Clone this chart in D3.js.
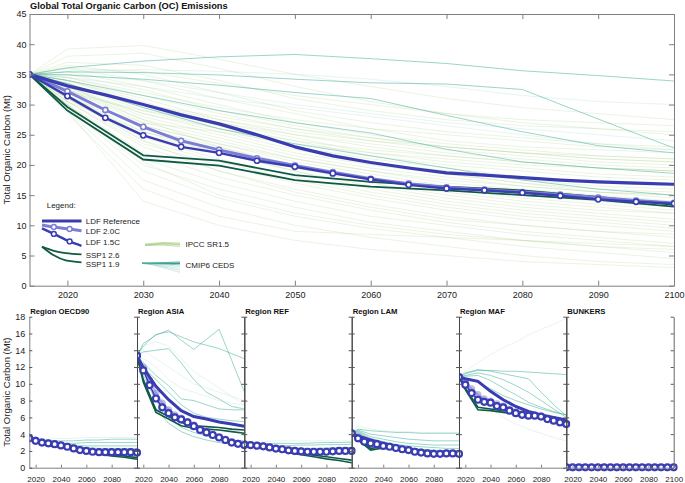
<!DOCTYPE html>
<html><head><meta charset="utf-8">
<script src="https://cdn.jsdelivr.net/npm/d3@7"></script>
<style>
body{margin:0;background:#fff}
svg{display:block;font-family:"Liberation Sans",Arial,Helvetica,sans-serif}
</style></head><body>
<svg id="c" width="685" height="483"></svg>
<script>
// ---------------- DATA ----------------
const YEARS = [2015,2020,2030,2040,2050,2060,2070,2080,2090,2100];
const YEARS5 = [2015,2020,2025,2030,2035,2040,2045,2050,2055,2060,2065,2070,2075,2080,2085,2090,2095,2100];
const MAIN_X_TICKS = [2020,2030,2040,2050,2060,2070,2080,2090,2100];
const MAIN_Y_TICKS = [0,5,10,15,20,25,30,35,40,45];
const REG_Y_TICKS = [0,2,4,6,8,10,12,14,16,18];
const REG_X_TICKS = [2020,2040,2060,2080];
const REGIONS = ["Region OECD90","Region ASIA","Region REF","Region LAM","Region MAF","BUNKERS"];

// Global (5-year steps)
const LDF_REF = [35.0,33.1,31.6,30.0,28.3,26.8,25.0,23.0,21.5,20.4,19.5,18.7,18.3,17.9,17.5,17.2,17.0,16.8];
const LDF_20C = [35.0,32.2,29.1,26.3,24.0,22.5,21.1,19.9,18.8,17.7,16.9,16.3,15.9,15.5,15.1,14.6,14.1,13.7];
const LDF_15C = [35.0,31.4,27.8,24.9,23.0,22.0,20.7,19.7,18.6,17.6,16.7,16.1,15.8,15.4,14.9,14.3,13.9,13.6];
// Global (YEARS steps)
const SSP1_26 = [35.0,29.6,21.6,20.7,18.3,17.2,16.4,15.8,14.7,13.4];
const SSP1_19 = [35.0,29.0,20.9,19.9,17.5,16.4,15.8,15.0,14.2,13.1];
const CMIP_STRONG = [
  [35.0,36.1,37.2,37.9,38.3,37.6,36.8,35.6,34.8,33.9],
  [35.0,35.4,35.3,34.9,34.2,33.6,33.4,32.5,27.6,22.8],
  [35.0,34.9,34.2,33.2,32.0,31.0,28.2,25.5,23.2,22.0],
  [35.0,34.0,31.5,29.0,27.0,25.3,22.6,20.5,19.5,18.6],
  [35.0,33.5,29.5,26.0,23.5,21.5,19.5,17.5,16.0,15.0]
];
const CMIP_FAINT = [
  [35.0,35.5,35.8,35.5,35.0,34.2,33.0,31.5,30.5,30.0],
  [35.0,35.0,34.0,32.0,30.0,28.5,27.0,26.0,25.0,24.0],
  [35.0,34.5,33.0,31.0,29.5,28.0,26.5,25.0,23.5,22.5]
];
const IPCC_SR15 = [
  [35,39.2,39.8,37.5,35.0,33.0,31.0,29.5,28.5,27.5],
  [35,38.0,38.5,36.0,33.0,30.5,28.5,27.0,26.0,25.5],
  [35,37.0,36.5,34.0,31.0,29.0,27.5,26.5,26.0,25.0],
  [35,36.5,35.0,32.0,29.0,27.0,25.5,24.5,23.5,23.0],
  [35,36.0,34.0,31.0,28.5,26.0,24.0,23.0,22.5,22.0],
  [35,35.5,33.0,30.0,27.0,25.0,23.5,22.5,21.5,21.0],
  [35,35.0,32.5,29.0,26.5,24.5,23.0,22.0,21.0,20.5],
  [35,34.5,31.5,28.5,26.0,24.0,22.5,21.5,20.5,20.0],
  [35,34.0,31.0,27.5,25.0,23.0,21.5,20.5,19.5,19.0],
  [35,34.0,30.0,27.0,24.5,22.0,20.5,19.5,18.5,18.0],
  [35,33.5,29.5,26.5,24.0,21.5,20.0,19.0,18.0,17.5],
  [35,33.5,29.0,26.0,23.0,21.0,19.5,18.0,17.0,16.5],
  [35,33.0,28.5,25.5,22.5,20.5,19.0,17.5,16.5,16.0],
  [35,33.0,28.0,25.0,22.0,20.0,18.5,17.0,16.0,15.5],
  [35,32.5,27.5,24.5,21.5,19.5,18.0,16.5,15.5,15.0],
  [35,32.5,27.0,24.0,21.0,19.0,17.0,16.0,15.0,14.0],
  [35,32.0,26.5,23.5,20.5,18.5,16.5,15.0,14.0,13.0],
  [35,32.0,26.0,23.0,20.0,18.0,16.0,14.5,13.5,12.5],
  [35,31.5,25.5,22.5,19.5,17.0,15.0,13.5,12.5,12.0],
  [35,31.5,25.0,22.0,19.0,16.5,14.5,13.0,12.0,11.0],
  [35,31.0,24.5,21.0,18.0,15.5,13.5,12.0,11.0,10.0],
  [35,31.0,24.0,20.5,17.5,15.0,13.0,11.5,10.5,9.5],
  [35,30.5,23.5,20.0,17.0,14.5,12.5,11.0,10.0,9.0],
  [35,30.5,23.0,19.0,16.0,13.5,11.5,10.0,9.0,8.0],
  [35,30.0,22.0,18.0,15.0,12.5,10.5,9.0,8.0,7.0],
  [35,30.0,21.0,17.0,14.0,11.5,10.0,8.5,7.5,6.5],
  [35,29.5,20.0,16.0,13.0,10.5,9.0,7.5,6.5,5.5],
  [35,29.5,19.0,14.5,11.5,9.5,8.0,6.5,5.5,4.5],
  [35,29.0,17.5,13.0,10.0,8.0,6.5,5.0,4.0,3.5],
  [35,29.0,14.0,10.0,7.5,6.0,5.0,4.0,3.5,3.0],
  [35,28.5,16.0,11.5,9.0,8.5,8.0,7.5,7.0,6.5],
  [35,34.5,32.0,29.5,27.5,26.0,25.0,24.0,23.0,22.5],
  [35,33.0,30.0,28.0,26.0,24.5,23.0,22.0,21.5,21.0],
  [35,32.0,29.0,27.0,25.0,23.5,22.0,21.0,20.0,19.5],
  [35,31.0,27.0,25.5,23.5,22.0,21.0,20.0,19.5,19.0],
  [35,36.0,35.5,33.5,31.5,30.0,28.5,27.5,27.0,26.5],
  [35,34.0,30.5,26.5,23.0,20.5,18.5,17.0,15.5,14.5],
  [35,33.0,27.5,23.0,19.5,17.5,15.5,14.0,13.0,12.0],
  [35,31.5,24.0,19.0,15.5,13.0,11.0,10.0,9.0,8.5],
  [35,30.0,20.5,15.0,12.0,10.0,8.5,7.5,6.5,6.0],
  [35,33.5,30.0,27.5,25.5,24.0,23.0,22.0,21.0,20.5],
  [35,32.5,28.5,26.0,24.0,22.5,21.5,20.5,19.5,19.0],
  [35,31.5,26.5,23.5,21.0,19.0,17.5,16.5,15.5,15.0],
  [35,30.5,25.5,22.0,19.0,16.0,14.0,12.5,11.5,10.5]
];

// Regional LDF (5-year steps)
const REG_LDF_15C = [
  [3.5,3.2,3.0,2.9,2.8,2.65,2.5,2.3,2.1,2.0,1.9,1.85,1.85,1.85,1.85,1.85,1.85,1.8],
  [13.35,11.6,9.85,8.25,7.2,6.5,6.0,5.75,5.4,4.95,4.5,4.2,3.9,3.6,3.3,3.0,2.85,2.7],
  [2.78,2.7,2.62,2.55,2.42,2.28,2.2,2.07,2.0,1.95,1.9,1.9,1.9,1.9,1.95,2.0,2.0,2.0],
  [4.1,3.5,3.1,2.9,2.8,2.6,2.5,2.35,2.2,2.1,1.9,1.8,1.7,1.65,1.65,1.7,1.7,1.65],
  [10.8,9.9,8.9,8.1,7.85,7.75,7.35,7.2,6.8,6.5,6.3,6.2,6.2,6.1,5.8,5.6,5.4,5.2],
  [0.05,0.05,0.05,0.05,0.05,0.05,0.05,0.05,0.05,0.05,0.05,0.05,0.05,0.05,0.05,0.05,0.05,0.05]
];
const REG_LDF_20C = [
  [3.5,3.3,3.1,2.95,2.85,2.7,2.55,2.35,2.15,2.05,1.95,1.9,1.9,1.9,1.9,1.9,1.9,1.85],
  [13.35,12.0,10.4,8.9,7.7,6.9,6.3,5.9,5.5,5.1,4.6,4.3,4.0,3.7,3.4,3.1,2.9,2.75],
  [2.78,2.72,2.65,2.58,2.45,2.3,2.22,2.1,2.02,1.97,1.92,1.92,1.92,1.92,1.97,2.02,2.02,2.02],
  [4.1,3.7,3.3,3.05,2.9,2.7,2.55,2.4,2.25,2.15,1.95,1.85,1.75,1.7,1.7,1.72,1.72,1.7],
  [10.8,10.2,9.4,8.7,8.2,7.95,7.6,7.35,7.0,6.7,6.45,6.3,6.25,6.15,5.9,5.7,5.5,5.3],
  [0.05,0.05,0.05,0.05,0.05,0.05,0.05,0.05,0.05,0.05,0.05,0.05,0.05,0.05,0.05,0.05,0.05,0.05]
];
// Regional (YEARS steps)
const REG_LDF_REF = [
  [3.5,3.3,2.95,2.75,2.45,2.15,1.95,1.9,1.9,1.9],
  [13.35,11.9,9.7,8.1,6.8,6.1,5.8,5.45,5.2,4.95],
  [2.78,2.7,2.55,2.3,2.1,1.95,1.9,1.95,2.0,2.05],
  [4.1,3.8,3.3,2.9,2.55,2.25,2.0,1.85,1.8,1.75],
  [10.8,10.6,10.3,9.1,8.1,7.3,6.7,6.3,6.0,5.7],
  [0.05,0.05,0.05,0.05,0.05,0.05,0.05,0.05,0.05,0.05]
];
const REG_SSP1_26 = [
  [3.5,3.1,2.7,2.5,2.3,2.0,1.75,1.55,1.4,1.2],
  [13.35,10.5,6.9,6.1,5.4,5.0,4.9,4.8,4.6,4.5],
  [2.78,2.65,2.45,2.2,1.95,1.7,1.5,1.3,1.1,0.9],
  [4.1,3.3,2.3,2.5,2.3,2.1,2.0,1.9,1.8,1.75],
  [10.8,9.5,7.2,7.0,6.8,6.6,6.4,6.2,5.9,5.6],
  [0.05,0.05,0.05,0.05,0.05,0.05,0.05,0.05,0.05,0.05]
];
const REG_SSP1_19 = [
  [3.5,3.1,2.6,2.45,2.2,1.9,1.6,1.4,1.25,1.0],
  [13.35,10.2,6.6,5.8,5.0,4.7,4.6,4.5,4.3,4.1],
  [2.78,2.65,2.4,2.1,1.8,1.55,1.3,1.05,0.85,0.6],
  [4.1,3.3,2.1,2.35,2.15,2.0,1.9,1.8,1.75,1.7],
  [10.8,9.3,6.9,6.8,6.6,6.4,6.2,6.0,5.8,5.5],
  [0.05,0.05,0.05,0.05,0.05,0.05,0.05,0.05,0.05,0.05]
];
const REG_CMIP = [
  [[3.5,3.3,3.2,3.2,3.2,3.3,3.3,3.4,3.4,3.4],
   [3.5,3.2,3.0,2.9,2.9,3.0,3.0,3.0,3.0,3.0],
   [3.5,3.2,2.9,2.8,2.7,2.6,2.6,2.6,2.6,2.6],
   [3.5,3.1,2.8,2.6,2.5,2.4,2.3,2.3,2.3,2.3],
   [3.5,3.1,2.7,2.5,2.3,2.1,2.0,2.0,2.0,2.0],
   [3.5,3.1,2.7,2.5,2.2,1.9,1.7,1.6,1.5,1.4]],
  [[13.35,14.8,15.8,16.4,15.2,14.1,15.3,16.5,12.8,9.06],
   [13.35,14.5,15.9,16.2,15.6,15.0,14.6,14.2,13.6,13.0],
   [13.35,13.8,14.0,14.2,12.5,10.5,9.0,8.2,7.3,7.0],
   [13.35,12.5,11.0,9.8,8.2,8.0,7.5,7.0,6.9,6.9],
   [13.35,12.0,10.5,9.0,7.5,6.5,6.0,5.8,5.6,5.5],
   [13.35,11.0,8.0,6.0,4.8,4.2,3.8,3.5,3.3,3.2],
   [13.35,10.5,7.0,5.3,4.3,3.7,3.3,3.0,2.8,2.6]],
  [[2.78,2.8,2.85,2.9,2.9,2.9,2.95,3.0,3.0,3.05],
   [2.78,2.75,2.7,2.65,2.65,2.7,2.7,2.75,2.75,2.8],
   [2.78,2.7,2.6,2.45,2.35,2.3,2.3,2.35,2.4,2.4]],
  [[4.1,4.6,4.4,4.3,4.2,4.2,4.1,4.1,4.1,4.1],
   [4.1,4.5,4.0,3.8,3.6,3.4,3.3,3.2,3.2,3.2],
   [4.1,4.4,3.7,3.4,3.1,2.9,2.8,2.7,2.7,2.7],
   [4.1,4.3,3.5,3.1,2.8,2.6,2.5,2.4,2.3,2.3],
   [4.1,4.2,3.3,2.9,2.6,2.4,2.2,2.1,2.0,2.0]],
  [[10.8,11.2,11.6,11.6,11.5,11.5,11.4,11.3,11.2,11.1],
   [10.8,11.3,11.7,11.5,11.2,10.9,10.6,9.0,7.5,6.2],
   [10.8,11.0,11.3,11.0,10.5,9.8,9.0,8.0,7.0,6.0],
   [10.8,10.9,11.0,10.4,9.5,8.7,7.8,7.2,6.7,6.3],
   [10.8,10.6,10.2,9.4,8.6,8.0,7.5,7.0,6.6,6.3]],
  []
];
const REG_CMIP_FAINT = [
  [[3.5,3.4,3.4,3.5,3.5,3.6,3.6,3.6,3.6,3.6]],
  [[13.35,14.0,13.0,12.0,11.0,10.0,9.5,9.0,8.5,8.0],
   [13.35,13.0,12.0,10.5,9.5,9.0,8.5,8.0,7.7,7.5],
   [13.35,14.5,15.0,14.5,13.0,11.5,10.5,9.5,8.5,7.5]],
  [[2.78,2.9,3.1,3.2,3.2,3.2,3.2,3.2,3.2,3.2]],
  [[4.1,5.0,4.6,4.4,4.3,4.3,4.2,4.2,4.2,4.2]],
  [[10.8,11.5,12.5,13.5,14.3,15.0,15.8,16.5,17.1,17.8],
   [10.8,10.0,8.5,7.0,6.0,5.2,4.6,4.1,3.6,3.2]],
  []
];

// ---------------- STYLE ----------------
const C_REF = "#3a3cb2", C_20 = "#7c7ed6", C_15 = "#3a3cb2";
const C_SSP = "#0f5a45", C_CMIP = "#4cb3a0", C_IPCC = "#9cc874";
const AX = "#7f7f7f";

const svg = d3.select("#c");
const line = d3.line().x(d => d[0]).y(d => d[1]);

// ---------------- MAIN CHART ----------------
const L = 29.5, R = 674, T = 14, B = 285.7;
const x = d3.scaleLinear().domain([2015,2100]).range([L,R]);
const y = d3.scaleLinear().domain([0,45]).range([B,T]);

svg.append("defs").append("clipPath").attr("id","mclip")
  .append("rect").attr("x",L).attr("y",T).attr("width",R-L).attr("height",B-T);
const g = svg.append("g").attr("clip-path","url(#mclip)");
const pts = (yrs, vals, sx, sy) => yrs.map((yr,i)=>[sx(yr), sy(vals[i])]);

IPCC_SR15.forEach(s => g.append("path").attr("d", line(pts(YEARS,s,x,y)))
  .attr("fill","none").attr("stroke",C_IPCC).attr("stroke-width",0.7).attr("stroke-opacity",0.3));
CMIP_FAINT.forEach(s => g.append("path").attr("d", line(pts(YEARS,s,x,y)))
  .attr("fill","none").attr("stroke",C_CMIP).attr("stroke-width",0.7).attr("stroke-opacity",0.2));
CMIP_STRONG.forEach(s => g.append("path").attr("d", line(pts(YEARS,s,x,y)))
  .attr("fill","none").attr("stroke",C_CMIP).attr("stroke-width",0.8).attr("stroke-opacity",0.7));
[SSP1_26, SSP1_19].forEach(s => g.append("path").attr("d", line(pts(YEARS,s,x,y)))
  .attr("fill","none").attr("stroke",C_SSP).attr("stroke-width",1.8));

function markerSeries(grp, yrs, vals, sx, sy, col, lw, r, mw, fill) {
  grp.append("path").attr("d", line(pts(yrs,vals,sx,sy)))
    .attr("fill","none").attr("stroke",col).attr("stroke-width",lw).attr("stroke-linejoin","round");
  grp.selectAll(null).data(pts(yrs,vals,sx,sy)).enter().append("circle")
    .attr("cx",d=>d[0]).attr("cy",d=>d[1]).attr("r",r)
    .attr("fill",fill).attr("stroke",col).attr("stroke-width",mw);
}
markerSeries(g, YEARS5, LDF_20C, x, y, C_20, 3, 2.6, 1.6, "#fff");
g.append("path").attr("d", line(pts(YEARS5,LDF_REF,x,y)))
  .attr("fill","none").attr("stroke",C_REF).attr("stroke-width",3.2).attr("stroke-linejoin","round");
markerSeries(g, YEARS5, LDF_15C, x, y, C_15, 2.4, 2.6, 1.6, "#fff");

function styleAxis(a){
  a.selectAll("path.domain").attr("stroke",AX).attr("stroke-width",1);
  a.selectAll(".tick line").attr("stroke",AX);
  a.selectAll("text").attr("fill","#222");
}
const fmtD = d3.format("d");
const ax1 = svg.append("g").attr("transform",`translate(${L},0)`)
  .call(d3.axisLeft(y).tickValues(MAIN_Y_TICKS).tickSize(-5).tickSizeOuter(0).tickPadding(3).tickFormat(fmtD))
  .style("font-size","9px").style("font-family","Liberation Sans, Arial, sans-serif");
styleAxis(ax1);
const ax2 = svg.append("g").attr("transform",`translate(0,${B})`)
  .call(d3.axisBottom(x).tickValues(MAIN_X_TICKS).tickSize(-5).tickSizeOuter(0).tickPadding(6).tickFormat(fmtD))
  .style("font-size","9px").style("font-family","Liberation Sans, Arial, sans-serif");
styleAxis(ax2);
const ax3 = svg.append("g").attr("transform",`translate(0,${T})`)
  .call(d3.axisTop(x).tickValues(MAIN_X_TICKS).tickSize(-5).tickSizeOuter(0).tickFormat(""));
styleAxis(ax3);
const ax4 = svg.append("g").attr("transform",`translate(${R},0)`)
  .call(d3.axisRight(y).tickValues(MAIN_Y_TICKS).tickSize(-5).tickSizeOuter(0).tickFormat(""));
styleAxis(ax4);

svg.append("text").attr("x",30).attr("y",9).text("Global Total Organic Carbon (OC) Emissions")
  .attr("font-size","9.3px").attr("font-weight","bold").attr("fill","#111");
svg.append("text").attr("transform",`translate(10,${(T+B)/2}) rotate(-90)`).attr("text-anchor","middle")
  .text("Total Organic Carbon (Mt)").attr("font-size","9.5px").attr("fill","#222");

// ---------------- LEGEND ----------------
const lg = svg.append("g").style("font-size","8px").attr("fill","#222");
lg.append("text").attr("x",46.7).attr("y",208).text("Legend:");
const legItems = [
  {name:"LDF Reference", ty:224, shape:[[0,0],[1,0]], y0:221, dy:0, col:C_REF, w:3.2, m:[]},
  {name:"LDF 2.0C", ty:233.5, shape:[[0,0],[0.3,0.35],[0.7,0.7],[1,1]], y0:225, dy:5.7, col:C_20, w:3, m:[0.3,0.7]},
  {name:"LDF 1.5C", ty:244.5, shape:[[0,0],[0.3,0.32],[0.7,0.75],[1,1]], y0:228.3, dy:17.5, col:C_15, w:2.4, m:[0.3,0.7]},
  {name:"SSP1 2.6", ty:258, shape:[[0,0],[0.3,0.55],[0.6,0.85],[1,1]], y0:246.7, dy:7.6, col:C_SSP, w:1.8, m:[]},
  {name:"SSP1 1.9", ty:267, shape:[[0,0],[0.3,0.55],[0.6,0.88],[1,1]], y0:246.7, dy:15.6, col:C_SSP, w:1.8, m:[]}
];
const lx = d3.scaleLinear().domain([0,1]).range([42,81.5]);
legItems.forEach(it => {
  const p = it.shape.map(d => [lx(d[0]), it.y0 + d[1]*it.dy]);
  lg.append("path").attr("d", d3.line().curve(d3.curveMonotoneX)(p))
    .attr("fill","none").attr("stroke",it.col).attr("stroke-width",it.w);
  const interp = t => {
    for (let i=1;i<it.shape.length;i++){ const a=it.shape[i-1], b=it.shape[i];
      if (t<=b[0]) { const f=(t-a[0])/(b[0]-a[0]); return [lx(t), it.y0 + (a[1]+f*(b[1]-a[1]))*it.dy]; } }
  };
  it.m.forEach(t => { const q = interp(t);
    lg.append("circle").attr("cx",q[0]).attr("cy",q[1]).attr("r",2.4).attr("fill","#fff")
      .attr("stroke",it.col).attr("stroke-width",1.5); });
  lg.append("text").attr("x",85.7).attr("y",it.ty).text(it.name);
});
const bx = d3.scaleLinear().domain([0,1]).range([145,180]);
[[-1,-1.5,-2],[0,-0.5,-1],[0,0.5,0],[0.5,1,1.5],[0,-1,-0.5]].forEach(s => {
  lg.append("path").attr("d", line([[bx(0),245+s[0]],[bx(0.5),244+s[1]],[bx(1),245+s[2]]]))
    .attr("fill","none").attr("stroke",C_IPCC).attr("stroke-width",0.9).attr("stroke-opacity",0.6);
});
lg.append("text").attr("x",185.5).attr("y",247).text("IPCC SR1.5");
const cx2 = d3.scaleLinear().domain([0,1]).range([142,180]);
[[0,-1.5],[0,0],[0,1.5],[0,3],[0,5],[0,7],[0,9]].forEach((s,i) => {
  lg.append("path").attr("d", line([[cx2(0),263.3],[cx2(0.3),263.3+s[1]*0.2],[cx2(1),263.3+s[1]]]))
    .attr("fill","none").attr("stroke",i===1?"#2f8f7a":C_CMIP).attr("stroke-width",i===1?1.5:0.8).attr("stroke-opacity",i<3?0.9:0.35);
});
lg.append("text").attr("x",185.5).attr("y",268).text("CMIP6 CEDS");

// ---------------- REGIONAL PANELS ----------------
const PX = [29.3,137,244.3,351.7,459,566.3,673.7];
const RB = 467.7, RT = 316.7;
const ry = d3.scaleLinear().domain([0,18]).range([RB,RT]);

REGIONS.forEach((name, i) => {
  const x0 = PX[i], x1 = PX[i+1];
  const rx = d3.scaleLinear().domain([2015,2100]).range([x0,x1]);
  const pg = svg.append("g");
  pg.append("clipPath").attr("id","rc"+i).append("rect")
    .attr("x",x0).attr("y",RT-2).attr("width",x1-x0+4).attr("height",RB-RT+6);
  const dg = pg.append("g").attr("clip-path",`url(#rc${i})`);
  REG_CMIP_FAINT[i].forEach(s => dg.append("path").attr("d", line(pts(YEARS,s,rx,ry)))
    .attr("fill","none").attr("stroke",C_CMIP).attr("stroke-width",0.7).attr("stroke-opacity",0.2));
  REG_CMIP[i].forEach(s => dg.append("path").attr("d", line(pts(YEARS,s,rx,ry)))
    .attr("fill","none").attr("stroke",C_CMIP).attr("stroke-width",0.8).attr("stroke-opacity",0.7));
  [REG_SSP1_26[i], REG_SSP1_19[i]].forEach(s => dg.append("path").attr("d", line(pts(YEARS,s,rx,ry)))
    .attr("fill","none").attr("stroke",C_SSP).attr("stroke-width",1.6));
  dg.append("path").attr("d", line(pts(YEARS5,REG_LDF_20C[i],rx,ry)))
    .attr("fill","none").attr("stroke",C_20).attr("stroke-width",2.5).attr("stroke-opacity",0.5);
  dg.selectAll(null).data(pts(YEARS5,REG_LDF_20C[i],rx,ry)).enter().append("circle")
    .attr("cx",d=>d[0]).attr("cy",d=>d[1]).attr("r",3.6).attr("fill",C_20).attr("fill-opacity",0.5);
  dg.append("path").attr("d", line(pts(YEARS,REG_LDF_REF[i],rx,ry)))
    .attr("fill","none").attr("stroke",C_REF).attr("stroke-width",3);
  markerSeries(dg, YEARS5, REG_LDF_15C[i], rx, ry, C_15, 1.5, 3.0, 2.2, "#fff");

  const ticksX = i===5 ? REG_X_TICKS.concat([2100]) : REG_X_TICKS;
  const bax = pg.append("g").attr("transform",`translate(0,${RB})`)
    .call(d3.axisBottom(rx).tickValues(ticksX).tickSize(-3).tickSizeOuter(0).tickPadding(8.5).tickFormat(fmtD))
    .style("font-size","8px").style("font-family","Liberation Sans, Arial, sans-serif");
  styleAxis(bax);
  const lax = pg.append("g").attr("transform",`translate(${x0},0)`)
    .call(d3.axisLeft(ry).tickValues(REG_Y_TICKS).tickSize(-3).tickSizeOuter(0).tickPadding(4)
      .tickFormat(i===0 ? fmtD : ""))
    .style("font-size","9px").style("font-family","Liberation Sans, Arial, sans-serif");
  styleAxis(lax);
  lax.select("path.domain").attr("stroke", i===0 ? AX : "#444");
  lax.selectAll(".tick line").attr("stroke", "#555");
  const rax = pg.append("g").attr("transform",`translate(${x1},0)`)
    .call(d3.axisRight(ry).tickValues(REG_Y_TICKS).tickSize(-3).tickSizeOuter(0).tickFormat(""));
  styleAxis(rax);
  rax.select("path.domain").attr("stroke", i===5 ? "#666" : "#444");
  rax.selectAll(".tick line").attr("stroke", "#555");

  pg.append("text").attr("x",x0+1).attr("y",314).text(name)
    .attr("font-size","7.7px").attr("font-weight","bold").attr("fill","#111");
});
svg.append("text").attr("transform",`translate(10,${(RT+RB)/2}) rotate(-90)`).attr("text-anchor","middle")
  .text("Total Organic Carbon (Mt)").attr("font-size","9.5px").attr("fill","#222");
</script></body></html>
